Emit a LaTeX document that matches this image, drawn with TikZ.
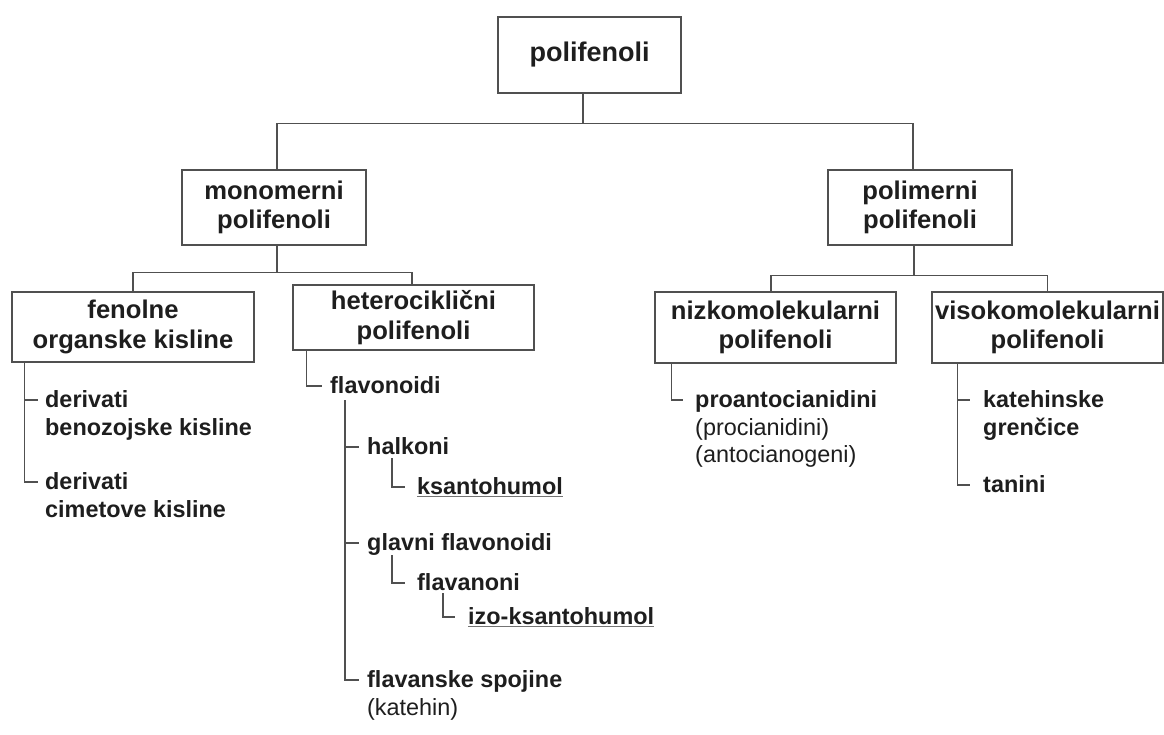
\documentclass[tikz,border=0pt]{standalone}
\usepackage{fontspec}
\setmainfont{Liberation Sans}
\usetikzlibrary{calc}
\definecolor{ln}{HTML}{505050}
\definecolor{tx}{HTML}{1E1E1E}
\begin{document}
\begin{tikzpicture}[x=1pt,y=-1pt,
 conn/.style={draw=ln,line width=1.3pt},
 box/.style={draw=ln,line width=1.4pt,fill=white,inner sep=0pt,align=center,text=tx,font=\fontsize{25.6}{29.5}\selectfont\bfseries},
 leaf/.style={anchor=base west,inner sep=0pt,text=tx,font=\fontsize{23.4}{28}\selectfont\bfseries},
 note/.style={anchor=base west,inner sep=0pt,text=tx,font=\fontsize{23.4}{28}\selectfont},
 uline/.style={draw=ln!80,line width=1.1pt}]
\useasboundingbox (0,0) rectangle (1164,735);
\fill[white] (0,0) rectangle (1164,735);

% boxes
\node[box,minimum width=183pt,minimum height=76pt,font=\fontsize{27}{30}\selectfont\bfseries] (T) at (589.5,55) {polifenoli};
\node[box,minimum width=184pt,minimum height=75pt] (M) at (274,207.5) {monomerni\\polifenoli};
\node[box,minimum width=184pt,minimum height=75pt] (P) at (920,207.5) {polimerni\\polifenoli};
\node[box,minimum width=242pt,minimum height=70pt] (F) at (133,327) {fenolne\\organske kisline};
\node[box,minimum width=241pt,minimum height=65pt] (H) at (413.5,317.5) {heterociklični\\polifenoli};
\node[box,minimum width=241pt,minimum height=71pt] (N) at (775.5,327.5) {nizkomolekularni\\polifenoli};
\node[box,minimum width=231pt,minimum height=71pt] (V) at (1047.5,327.5) {visokomolekularni\\polifenoli};

% tree connectors between boxes
\draw[conn] ([xshift=-6.5pt]T.south) -- ++(0,30) coordinate (tj);
\draw[conn] (tj) -| ([xshift=3pt]M.north);
\draw[conn] (tj) -| ([xshift=-7pt]P.north);
\draw[conn] ([xshift=3pt]M.south) -- ++(0,27) coordinate (mj);
\draw[conn] (mj) -| (F.north);
\draw[conn] (mj) -| ([xshift=-1.5pt]H.north);
\draw[conn] ([xshift=-6pt]P.south) -- ++(0,30) coordinate (pj);
\draw[conn] (pj) -| ([xshift=-4.5pt]N.north);
\draw[conn] (pj) -| (V.north);

% fenolne organske kisline
\coordinate (f1) at (38,400);
\coordinate (f2) at (38,482);
\node[leaf] (d1) at (45,407.5) {derivati};
\node[leaf] (d1b) at (45,435.5) {benozojske kisline};
\node[leaf] (d2) at (45,489.5) {derivati};
\node[leaf] (d2b) at (45,517.5) {cimetove kisline};
\draw[conn] ([xshift=13pt]F.south west) |- (f1);
\draw[conn] ([xshift=13pt]F.south west) |- (f2);

% heterociklicni polifenoli
\coordinate (h1) at (322,386);
\node[leaf] (fl) at (330,393) {flavonoidi};
\draw[conn] ([xshift=14pt]H.south west) |- (h1);
\coordinate (c1) at (359,447);
\coordinate (c2) at (359,543);
\coordinate (c3) at (359,680);
\draw[conn] ([xshift=15pt,yshift=-7pt]fl.base west) |- (c1);
\draw[conn] ([xshift=15pt,yshift=-7pt]fl.base west) |- (c2);
\draw[conn] ([xshift=15pt,yshift=-7pt]fl.base west) |- (c3);

\node[leaf] (hk) at (367,454) {halkoni};
\coordinate (c11) at (405,487);
\draw[conn] ([xshift=25pt,yshift=-4pt]hk.base west) |- (c11);
\node[leaf] (ks) at (417,494) {ksantohumol};
\draw[uline] ([yshift=-2.5pt]ks.base west) -- ([yshift=-2.5pt]ks.base east);

\node[leaf] (gf) at (367,550) {glavni flavonoidi};
\coordinate (c21) at (405,583);
\draw[conn] ([xshift=25pt,yshift=-5pt]gf.base west) |- (c21);
\node[leaf] (fn) at (417,590) {flavanoni};
\coordinate (c22) at (455,617);
\draw[conn] ([xshift=26pt,yshift=-3pt]fn.base west) |- (c22);
\node[leaf] (iz) at (468,624) {izo-ksantohumol};
\draw[uline] ([yshift=-2.5pt]iz.base west) -- ([yshift=-2.5pt]iz.base east);

\node[leaf] (fs) at (367,687) {flavanske spojine};
\node[note] (kt) at (367,715) {(katehin)};

% nizkomolekularni
\coordinate (n1) at (683,400);
\draw[conn] ([xshift=17pt]N.south west) |- (n1);
\node[leaf] (pa) at (695,407) {proantocianidini};
\node[note] (pc) at (695,435) {(procianidini)};
\node[note] (ag) at (695,462) {(antocianogeni)};

% visokomolekularni
\coordinate (v1) at (970,400);
\coordinate (v2) at (970,485);
\draw[conn] ([xshift=26pt]V.south west) |- (v1);
\draw[conn] ([xshift=26pt]V.south west) |- (v2);
\node[leaf] (kg) at (983,407) {katehinske};
\node[leaf] (gr) at (983,435) {grenčice};
\node[leaf] (tn) at (983,492) {tanini};
\end{tikzpicture}
\end{document}
